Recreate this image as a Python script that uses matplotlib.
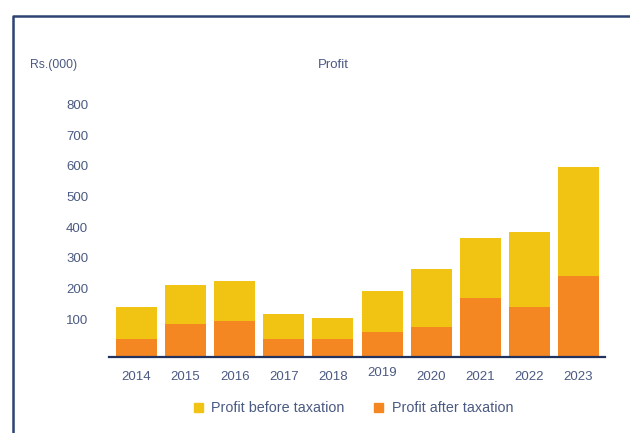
import matplotlib.pyplot as plt
from matplotlib.lines import Line2D
from matplotlib.patches import Rectangle
from matplotlib.transforms import ScaledTranslation

# data, Rs.(000)
years = ['2014', '2015', '2016', '2017', '2018', '2019', '2020', '2021', '2022', '2023']
before_tax = [163, 235, 248, 140, 127, 215, 287, 388, 407, 619]
after_tax = [59, 107, 117, 59, 59, 81, 98, 192, 163, 264]
y_ticks = [100, 200, 300, 400, 500, 600, 700, 800]
legend_labels = ['Profit before taxation', 'Profit after taxation']

yellow = '#F1C413'
orange = '#F58723'
navy = '#22325f'
text_col = '#4b5a82'

plt.rcParams['font.family'] = ['Liberation Sans', 'DejaVu Sans']

W, H = 630, 433
fig = plt.figure(figsize=(W / 100, H / 100), dpi=100)

# axes placed in pixel terms
ax = fig.add_axes([109 / W, (H - 357) / H, 496 / W, 245.6 / H])
x = list(range(len(years)))
ax.bar(x, before_tax, width=0.835, color=yellow, zorder=2)
ax.bar(x, after_tax, width=0.835, color=orange, zorder=3)
ax.set_xlim(-0.56, 9.54)
ax.set_ylim(0, 800)

for s in ['top', 'right', 'left']:
  ax.spines[s].set_visible(False)
ax.spines['bottom'].set_color(navy)
ax.spines['bottom'].set_linewidth(1.6)
ax.spines['bottom'].set_zorder(4)

ax.set_xticks(x)
ax.set_xticklabels(years)
ax.set_yticks(y_ticks)
ax.set_yticklabels([str(v) for v in y_ticks])
ax.tick_params(axis='both', length=0, labelsize=9.5, labelcolor=text_col)
ax.tick_params(axis='y', pad=15)
ax.tick_params(axis='x', pad=10)
# labels sit a little above their gridline in the original
for lab in ax.get_yticklabels():
  lab.set_transform(lab.get_transform() + ScaledTranslation(0, 0.07, fig.dpi_scale_trans))
ax.get_xticklabels()[5].set_transform(
  ax.get_xticklabels()[5].get_transform() + ScaledTranslation(0, 0.04, fig.dpi_scale_trans))

fig.text(30 / W, 1 - 65 / H, 'Rs.(000)', fontsize=8.8, color=text_col, va='center', ha='left')
fig.text(333 / W, 1 - 65 / H, 'Profit', fontsize=9.5, color=text_col, va='center', ha='center')

# legend
sq_x = [194, 374]
txt_x = [211, 392]
for i, lab in enumerate(legend_labels):
  fig.add_artist(Rectangle((sq_x[i] / W, 1 - 412 / H), 9 / W, 9 / H,
                           transform=fig.transFigure, color=[yellow, orange][i]))
  fig.text(txt_x[i] / W, 1 - 408 / H, lab, fontsize=10.4, color=text_col, va='center', ha='left')

# frame on the left and top
fig.add_artist(Line2D([12.5 / W, 12.5 / W, 1], [0, 1 - 15.5 / H, 1 - 15.5 / H],
                      transform=fig.transFigure, color='#2d4373', lw=1.8))

fig.savefig('out.png', dpi=100)
